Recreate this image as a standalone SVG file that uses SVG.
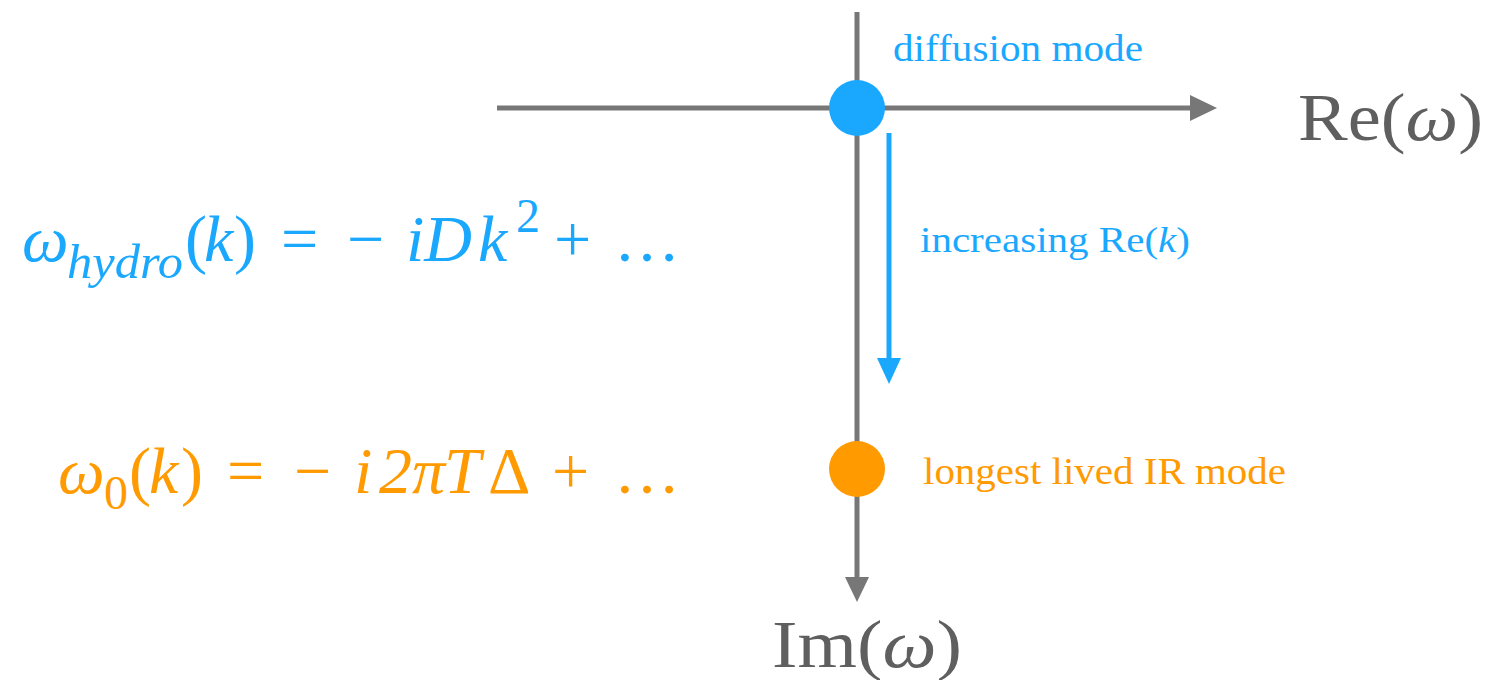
<svg xmlns="http://www.w3.org/2000/svg" width="1491" height="680" viewBox="0 0 1491 680">
<style>
text{font-family:"Liberation Serif","DejaVu Serif",serif}
.ax{stroke:#777;stroke-width:5;fill:none}
.it{font-style:italic}
.blue{fill:#1aa8ff}
.orange{fill:#ff9a00}
.gray{fill:#5f5f5f}
.f{font-size:66px}
.sub{font-size:48px}
</style>
<rect width="1491" height="680" fill="#fff"/>
<g id="connectors">
<line class="ax" x1="497" y1="108" x2="1192" y2="108"/>
<polygon points="1190,95 1217,108 1190,121" fill="#777"/>
<line class="ax" x1="857" y1="12" x2="857" y2="579"/>
<polygon points="845,577 857,602 869,577" fill="#777"/>
<line x1="889" y1="133" x2="889" y2="360" stroke="#1aa8ff" stroke-width="5"/>
<polygon points="877,358 889,384 901,358" fill="#1aa8ff"/>
</g>
<g id="diffusion-mode">
<circle cx="857" cy="108" r="28" fill="#1aa8ff"/>
<text x="893" y="61" font-size="37" class="blue" textLength="250" lengthAdjust="spacingAndGlyphs">diffusion mode</text>
</g>
<g id="ir-mode">
<circle cx="857" cy="469" r="28" fill="#ff9a00"/>
<text x="923" y="484" font-size="37" class="orange" textLength="363" lengthAdjust="spacingAndGlyphs">longest lived IR mode</text>
</g>
<g id="re-axis-label">
<text x="1298" y="140" font-size="68" class="gray" textLength="185" lengthAdjust="spacingAndGlyphs">Re(<tspan class="it">ω</tspan>)</text>
</g>
<g id="im-axis-label">
<text x="772" y="667" font-size="68" class="gray" textLength="190" lengthAdjust="spacingAndGlyphs">Im(<tspan class="it">ω</tspan>)</text>
</g>
<g id="arrow-label">
<text x="920" y="252" font-size="35" class="blue" textLength="270" lengthAdjust="spacingAndGlyphs">increasing Re(<tspan class="it">k</tspan>)</text>
</g>
<g id="hydro-formula" class="blue">
<text class="f it" x="22" y="261">ω</text>
<text class="sub it" x="67" y="278" textLength="116" lengthAdjust="spacingAndGlyphs">hydro</text>
<text class="f" x="185" y="261">(</text>
<text class="f it" x="204" y="261">k</text>
<text class="f" x="234" y="261">)</text>
<text class="f" x="281" y="261">=</text>
<text class="f" x="347" y="261">−</text>
<text class="f it" x="406" y="261">iD</text>
<text class="f it" x="478" y="261">k</text>
<text class="sub" x="516" y="232">2</text>
<text class="f" x="554" y="261">+</text>
<text class="f" x="614" y="261">…</text>
</g>
<g id="ir-formula" class="orange">
<text class="f it" x="58" y="493">ω</text>
<text class="sub" x="104" y="509">0</text>
<text class="f" x="129" y="493">(</text>
<text class="f it" x="149" y="493">k</text>
<text class="f" x="181" y="493">)</text>
<text class="f" x="227" y="493">=</text>
<text class="f" x="294" y="493">−</text>
<text class="f it" x="354" y="493">i</text>
<text class="f it" x="379" y="493">2</text>
<text class="f it" x="412" y="493">π</text>
<text class="f it" x="444" y="493">T</text>
<text class="f" x="488" y="493">Δ</text>
<text class="f" x="552" y="493">+</text>
<text class="f" x="614" y="493">…</text>
</g>
</svg>
